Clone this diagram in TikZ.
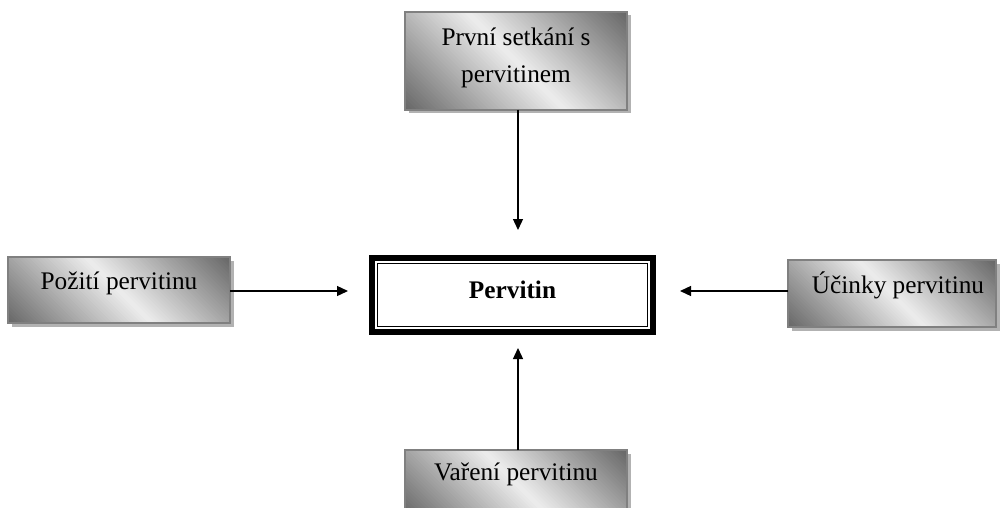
\documentclass[tikz,border=0pt]{standalone}
\usepackage{fontspec}
\setmainfont{Liberation Serif}
\usetikzlibrary{arrows.meta,calc}
\tikzset{
  gbox/.style={draw=black!50, line width=1.2pt, inner sep=0pt, outer sep=0pt, align=center,
    font=\fontsize{25.3}{37}\selectfont},
  shadowfill/.style={fill=black!30},
  mainbox/.style={draw=black, line width=5.7pt, fill=white, inner sep=0pt,
    minimum width=281.3pt, minimum height=74.3pt, font=\fontsize{25.3}{30}\selectfont\bfseries},
  arr/.style={line width=1.3pt, -{Triangle[length=11pt,width=10pt]}}
}
\newcommand\gradrect[4]{%
  \pgfmathsetmacro\gxc{(#1+#3)/2}%
  \pgfmathsetmacro\gyc{(#2+#4)/2}%
  \pgfmathsetmacro\gU{(#3-#1)/2+(#4-#2)/2}%
  \pgfmathsetmacro\gstep{\gU/40}%
  \fill[shadowfill] (#1+3.5,#2+3.5) rectangle (#3+3.5,#4+3.5);
  \begin{scope}
    \clip (#1,#2) rectangle (#3,#4);
    \foreach \k in {0,...,79}{%
      \pgfmathsetmacro\gca{\gstep*\k-\gU}%
      \pgfmathsetmacro\gcb{\gca+\gstep+1}%
      \pgfmathsetmacro\gpct{7+53*abs(\gca+\gstep/2)/\gU}%
      \fill[black!\gpct] (\gxc+\gca-300,\gyc-300) -- (\gxc+\gca+300,\gyc+300) -- (\gxc+\gcb+300,\gyc+300) -- (\gxc+\gcb-300,\gyc-300) -- cycle;
    }
  \end{scope}}
\newcommand\lift[2]{\raisebox{#1}[0pt][0pt]{#2}}
\begin{document}
\begin{tikzpicture}[x=1pt,y=-1pt]
\useasboundingbox (0,0) rectangle (1000,508);
\clip (0,0) rectangle (1000,508);
% gradient fills and shadows of the boxes
\gradrect{405}{12}{627}{110}
\gradrect{8}{257}{230}{323}
\gradrect{788}{260}{996}{327}
\gradrect{405}{450}{627}{516}
% boxes
\node[gbox, minimum width=222pt, minimum height=98pt] (t) at (516,61) {\lift{15pt}{\begin{tabular}[t]{@{}c@{}}První setkání s\\pervitinem\end{tabular}}};
\node[gbox, minimum width=222pt, minimum height=66pt] (l) at (119,290) {\lift{1pt}{Požití pervitinu}};
\node[gbox, minimum width=208pt, minimum height=67pt] (r) at (892,293.5) {\lift{0pt}{\hspace*{12pt}Účinky pervitinu}};
\node[gbox, minimum width=222pt, minimum height=66pt] (b) at (516,483) {\lift{3pt}{Vaření pervitinu}};
\node[mainbox] (p) at (512.5,295) {\lift{-3pt}{Pervitin}};
\draw[line width=1.6pt] ($(p.north west)+(8.6,8.6)$) rectangle ($(p.south east)+(-8.6,-8.6)$);
% connectors
\draw[arr, shorten >=25pt] (t.south -| 518,0) -- (p.north -| 518,0);
\draw[arr, shorten >=21pt] (l.east |- 0,291) -- (p.west |- 0,291);
\draw[arr, shorten >=24pt] (r.west |- 0,291) -- (p.east |- 0,291);
\draw[arr, shorten >=13pt] (b.north -| 518,0) -- (p.south -| 518,0);
\end{tikzpicture}
\end{document}
